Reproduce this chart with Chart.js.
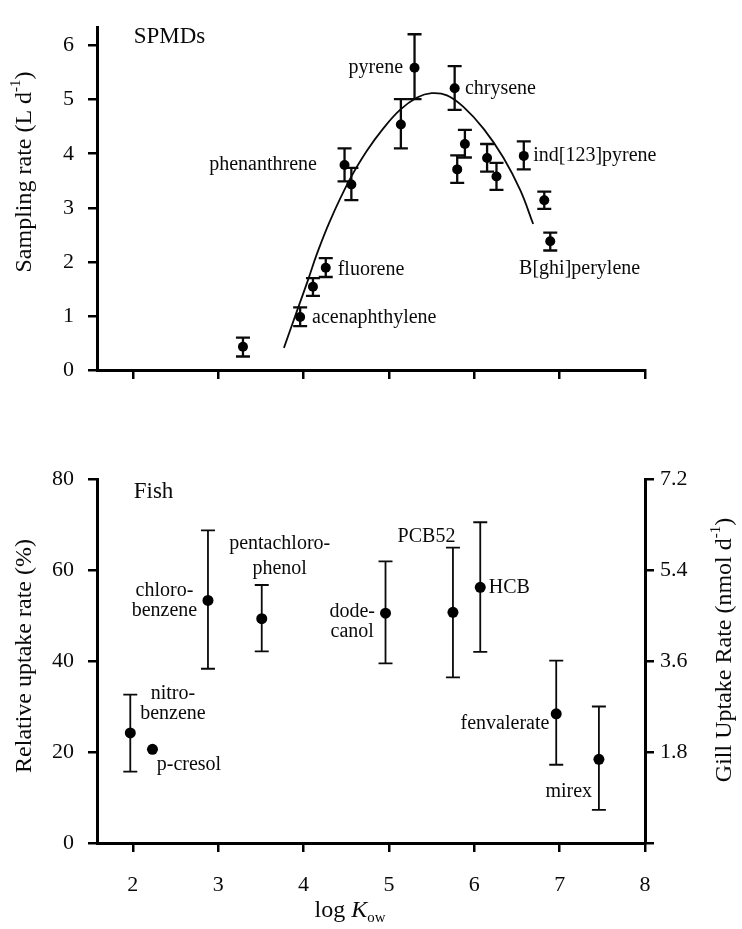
<!DOCTYPE html>
<html>
<head>
<meta charset="utf-8">
<script src="https://cdn.jsdelivr.net/npm/chart.js@4.4.1/dist/chart.umd.min.js"></script>
<style>
  html, body { margin: 0; padding: 0; background: #fff; }
  #wrap { position: relative; width: 742px; height: 929px; }
  canvas { position: absolute; left: 0; }
  #spmd { top: 0; }
  #fish { top: 400px; }
</style>
</head>
<body>
<div id="wrap">
  <canvas id="spmd" width="742" height="400"></canvas>
  <canvas id="fish" width="742" height="529"></canvas>
</div>
<script>
// SPMD sampling rates (L/d) vs log Kow
const spmdLogKow = [3.29, 3.96, 4.11, 4.26, 4.48, 4.56, 5.14, 5.30, 5.77, 5.80, 5.89, 6.15, 6.26, 6.58, 6.82, 6.89]
const spmdRate   = [0.43, 0.98, 1.54, 1.89, 3.79, 3.43, 4.54, 5.59, 5.21, 3.71, 4.18, 3.92, 3.58, 3.96, 3.14, 2.38]
const spmdHigh   = [0.60, 1.16, 1.70, 2.07, 4.10, 3.74, 5.01, 6.21, 5.62, 3.97, 4.44, 4.18, 3.83, 4.23, 3.30, 2.54]
const spmdLow    = [0.25, 0.81, 1.37, 1.72, 3.49, 3.14, 4.10, 5.01, 4.81, 3.46, 3.93, 3.67, 3.33, 3.71, 2.98, 2.21]

// fitted curve
const fitLogKow = [3.77, 3.92, 4.06, 4.15, 4.31, 4.54, 4.74, 4.93, 5.13, 5.33, 5.50, 5.68, 5.87, 6.11, 6.34, 6.54, 6.69]
const fitRate   = [0.41, 1.08, 1.70, 2.12, 2.76, 3.52, 4.05, 4.46, 4.81, 5.04, 5.12, 5.08, 4.87, 4.46, 3.93, 3.32, 2.70]

const spmdLabelText = ['SPMDs', 'pyrene', 'chrysene', 'phenanthrene', 'ind[123]pyrene', 'fluorene', 'acenaphthylene', 'B[ghi]perylene']
const spmdLabelX    = [2.01, 5.165, 5.89, 4.157, 6.69, 4.40, 4.10, 6.525]
const spmdLabelY    = [6.16, 5.59, 5.21, 3.79, 3.96, 1.85, 0.97, 1.87]

// Fish relative uptake rate (%) vs log Kow
const fishLogKow = [1.97, 2.23, 2.88, 3.51, 4.96, 5.75, 6.07, 6.96, 7.46]
const fishUptake = [24.2, 20.6, 53.3, 49.3, 50.5, 50.7, 56.2, 28.4, 18.4]
const fishHigh   = [32.6, null, 68.7, 56.7, 61.9, 64.9, 70.5, 40.1, 30.0]
const fishLow    = [15.7, null, 38.3, 42.1, 39.5, 36.4, 42.0, 17.2, 7.3]

const fishLabelText = ['Fish', 'nitro-', 'benzene', 'p-cresol', 'chloro-', 'benzene', 'pentachloro-', 'phenol',
    'dode-', 'canol', 'PCB52', 'HCB', 'fenvalerate', 'mirex']
const fishLabelX    = [2.01, 2.47, 2.47, 2.28, 2.37, 2.37, 3.72, 3.72, 4.57, 4.57, 5.44, 6.17, 6.88, 7.38]
const fishLabelY    = [77.2, 32.8, 28.4, 17.1, 55.5, 51.0, 65.7, 60.3, 50.9, 46.5, 67.2, 56.1, 26.2, 11.3]

const xTicks = [2, 3, 4, 5, 6, 7, 8]
const gillTicks = [1.8, 3.6, 5.4, 7.2]

// styles
const SERIF = '"Liberation Serif", "Times New Roman", serif'
const INK = '#0a0a0a'
const spmdAlign = ['left', 'right', 'left', 'right', 'left', 'left', 'left', 'left']
const spmdLabelSize = [23, 20, 20, 20, 20, 20, 20, 20]
const fishAlign = ['left', 'center', 'center', 'left', 'center', 'center', 'center', 'center',
    'center', 'center', 'center', 'left', 'right', 'right']
const fishLabelSize = [23, 20, 20, 20, 20, 20, 20, 20, 20, 20, 20, 20, 20, 20]

const pts = (xs, ys) => xs.map((x, i) => ({ x, y: ys[i] }))

function errorBars (xs, lows, highs, cap, width) {
    return {
        id: 'errorBars',
        beforeDatasetsDraw (chart) {
            const { ctx, scales: { x, y } } = chart
            ctx.save()
            ctx.strokeStyle = INK
            ctx.lineWidth = width
            xs.forEach((v, i) => {
                if (lows[i] == null) return
                const px = x.getPixelForValue(v)
                const top = y.getPixelForValue(highs[i])
                const bot = y.getPixelForValue(lows[i])
                ctx.beginPath()
                ctx.moveTo(px, top); ctx.lineTo(px, bot)
                ctx.moveTo(px - cap, top); ctx.lineTo(px + cap, top)
                ctx.moveTo(px - cap, bot); ctx.lineTo(px + cap, bot)
                ctx.stroke()
            })
            ctx.restore()
        }
    }
}

function textLabels (texts, xs, ys, aligns, sizes) {
    return {
        id: 'textLabels',
        afterDraw (chart) {
            const { ctx, scales: { x, y } } = chart
            ctx.save()
            ctx.fillStyle = INK
            ctx.textBaseline = 'middle'
            texts.forEach((t, i) => {
                ctx.font = sizes[i] + 'px ' + SERIF
                ctx.textAlign = aligns[i]
                ctx.fillText(t, x.getPixelForValue(xs[i]), y.getPixelForValue(ys[i]))
            })
            ctx.restore()
        }
    }
}

// parts: [text, kind] with kind '', 'i', 'sup', 'sub'
function richText (ctx, parts, cx, cy, size, angle) {
    const fontFor = k => (k === 'i' ? 'italic ' : '') + ((k === 'sup' || k === 'sub') ? size * 0.62 : size) + 'px ' + SERIF
    let total = 0
    const widths = parts.map(([t, k]) => { ctx.font = fontFor(k); const w = ctx.measureText(t).width; total += w; return w })
    ctx.save()
    ctx.translate(cx, cy)
    ctx.rotate(angle)
    ctx.fillStyle = INK
    ctx.textBaseline = 'middle'
    ctx.textAlign = 'left'
    let x = -total / 2
    parts.forEach(([t, k], i) => {
        ctx.font = fontFor(k)
        const dy = k === 'sup' ? -size * 0.38 : k === 'sub' ? size * 0.3 : 0
        ctx.fillText(t, x, dy)
        x += widths[i]
    })
    ctx.restore()
}

function axisTitles (list) {
    return {
        id: 'axisTitles',
        afterDraw (chart) {
            list.forEach(a => richText(chart.ctx, a.parts, a.x, a.y, 24, a.angle))
        }
    }
}

const tickFont = { family: SERIF, size: 22 }
const grid = { display: true, drawOnChartArea: false, drawTicks: true, tickLength: 9, lineWidth: 2.5, color: '#000' }
const border = { display: true, color: '#000', width: 3 }
const base = {
    responsive: false,
    animation: false,
    devicePixelRatio: 1,
    plugins: { legend: { display: false }, tooltip: { enabled: false } }
}

new Chart(document.getElementById('spmd'), {
    data: {
        datasets: [
            { type: 'line', data: pts(fitLogKow, fitRate), borderColor: INK, borderWidth: 1.8,
              pointRadius: 0, tension: 0.4, fill: false },
            { type: 'scatter', data: pts(spmdLogKow, spmdRate), pointRadius: 5,
              backgroundColor: '#000', borderWidth: 0 }
        ]
    },
    options: {
        ...base,
        layout: { padding: { top: 10, right: 97, left: 0, bottom: 0 } },
        scales: {
            x: {
                type: 'linear', min: 1.58, max: 8,
                afterFit: s => { s.height = 30 },
                afterBuildTicks: s => { s.ticks = xTicks.map(value => ({ value })) },
                ticks: { display: false },
                grid, border
            },
            y: {
                type: 'linear', min: 0, max: 6.34,
                afterFit: s => { s.width = 97 },
                ticks: { stepSize: 1, includeBounds: false, font: tickFont, color: INK, padding: 14 },
                grid, border
            }
        }
    },
    plugins: [
        errorBars(spmdLogKow, spmdLow, spmdHigh, 7, 2.3),
        textLabels(spmdLabelText, spmdLabelX, spmdLabelY, spmdAlign, spmdLabelSize),
        axisTitles([
            { parts: [['Sampling rate (L d', ''], ['-1', 'sup'], [')', '']], x: 25, y: 172, angle: -Math.PI / 2 }
        ])
    ]
})

new Chart(document.getElementById('fish'), {
    data: {
        datasets: [
            { type: 'scatter', data: pts(fishLogKow, fishUptake), pointRadius: 5.5,
              backgroundColor: '#000', borderWidth: 0, yAxisID: 'y' }
        ]
    },
    options: {
        ...base,
        layout: { padding: { top: 79, right: 0, left: 0, bottom: 0 } },
        scales: {
            x: {
                type: 'linear', min: 1.58, max: 8,
                afterFit: s => { s.height = 86 },
                afterBuildTicks: s => { s.ticks = xTicks.map(value => ({ value })) },
                ticks: { font: tickFont, color: INK, padding: 20, maxRotation: 0 },
                grid, border
            },
            y: {
                type: 'linear', position: 'left', min: 0, max: 80,
                afterFit: s => { s.width = 97 },
                ticks: { stepSize: 20, font: tickFont, color: INK, padding: 14 },
                grid, border
            },
            y2: {
                type: 'linear', position: 'right', min: 0, max: 7.2,
                afterFit: s => { s.width = 97 },
                afterBuildTicks: s => { s.ticks = [0, ...gillTicks].map(value => ({ value })) },
                ticks: { font: tickFont, color: INK, padding: 6,
                         callback: v => v === 0 ? '' : v.toFixed(1) },
                grid, border
            }
        }
    },
    plugins: [
        errorBars(fishLogKow, fishLow, fishHigh, 7, 1.8),
        textLabels(fishLabelText, fishLabelX, fishLabelY, fishAlign, fishLabelSize),
        axisTitles([
            { parts: [['Relative uptake rate (%)', '']], x: 25, y: 256, angle: -Math.PI / 2 },
            { parts: [['Gill Uptake Rate (nmol d', ''], ['-1', 'sup'], [')', '']], x: 725, y: 250, angle: -Math.PI / 2 },
            { parts: [['log ', ''], ['K', 'i'], ['ow', 'sub']], x: 350, y: 511, angle: 0 }
        ])
    ]
})
</script>
</body>
</html>
